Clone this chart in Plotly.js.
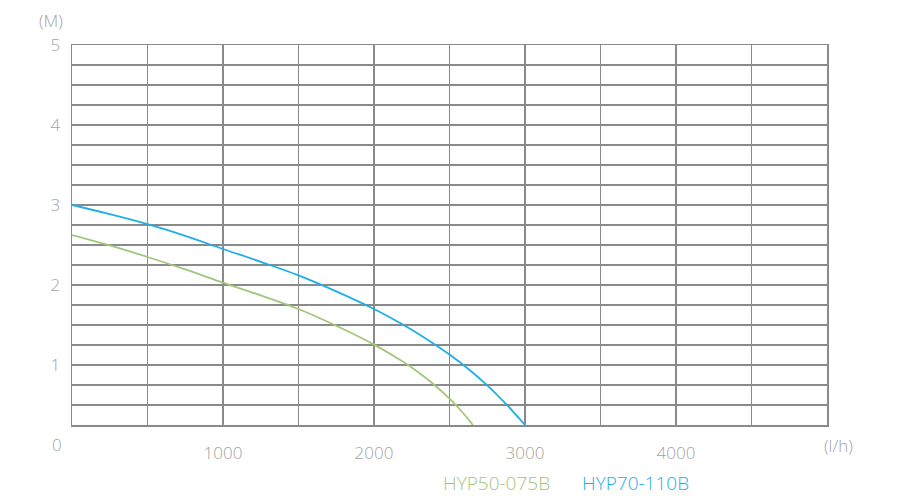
<!DOCTYPE html>
<html>
<head>
<meta charset="utf-8">
<script src="https://cdn.plot.ly/plotly-3.0.1.min.js"></script>
<style>html,body{margin:0;padding:0;background:#fff;}#chart{width:900px;height:500px;}</style>
</head>
<body>
<div id="chart"></div>
<script>
// Flow (l/h) and head (M)
var flowA = [0, 250, 500, 750, 1000, 1250, 1500, 1750, 2000, 2125, 2250, 2375, 2500, 2590, 2655];
var headA = [2.625, 2.495, 2.35, 2.195, 2.03, 1.87, 1.70, 1.49, 1.255, 1.12, 0.97, 0.79, 0.58, 0.40, 0.25];
var flowB = [0, 250, 500, 750, 1000, 1250, 1500, 1750, 2000, 2125, 2250, 2375, 2500, 2625, 2750, 2875, 3000];
var headB = [3.0, 2.885, 2.76, 2.615, 2.45, 2.29, 2.12, 1.92, 1.70, 1.575, 1.44, 1.29, 1.13, 0.95, 0.745, 0.51, 0.25];
var nameA = "HYP50-075B";
var nameB = "HYP70-110B";
var xTicks = [1000, 2000, 3000, 4000];
var yTicks = [1, 2, 3, 4, 5];

var green = "#a3c77a", blue = "#1eaee8", grid = "#8a8a8a", txt = "#a3a3a3";
var fnt = {family: "Open Sans, Liberation Sans, sans-serif", size: 17, color: txt, weight: 300};

var data = [
  {x: flowA, y: headA, mode: "lines", name: nameA, line: {color: green, width: 1.8, shape: "spline", smoothing: 1}},
  {x: flowB, y: headB, mode: "lines", name: nameB, line: {color: blue, width: 1.8, shape: "spline", smoothing: 1}}
];

var layout = {
  width: 900, height: 500,
  margin: {l: 72, r: 73, t: 45, b: 75},
  paper_bgcolor: "#fff", plot_bgcolor: "#fff",
  showlegend: false,
  font: fnt,
  xaxis: {
    range: [0, 5000], tickvals: xTicks, ticktext: xTicks.map(String),
    showgrid: true, gridcolor: grid, gridwidth: 1.3,
    minor: {dtick: 500, tick0: 0, showgrid: true, gridcolor: grid, gridwidth: 1.3},
    showline: true, linecolor: grid, linewidth: 1.5, mirror: true,
    zeroline: false, ticks: "", ticklabelstandoff: 12, tickfont: fnt
  },
  yaxis: {
    range: [0.25, 5], tickvals: yTicks, ticktext: yTicks.map(String),
    showgrid: true, gridcolor: grid, gridwidth: 1.3,
    minor: {dtick: 0.25, tick0: 0, showgrid: true, gridcolor: grid, gridwidth: 1.3},
    showline: true, linecolor: grid, linewidth: 1.5, mirror: true,
    zeroline: false, ticks: "", ticklabelstandoff: 7, tickfont: fnt
  },
  annotations: [
    {text: "0", xref: "paper", yref: "paper", x: 0, y: 0, xshift: -15, yshift: -19, showarrow: false, font: fnt, xanchor: "center", yanchor: "middle"},
    {text: "(M)", xref: "paper", yref: "paper", x: 0, y: 1, xshift: -21, yshift: 25, showarrow: false, font: fnt, xanchor: "center", yanchor: "middle"},
    {text: "(l/h)", xref: "paper", yref: "paper", x: 1, y: 0, xshift: 11, yshift: -20, showarrow: false, font: fnt, xanchor: "center", yanchor: "middle"},
    {text: nameA, xref: "paper", yref: "paper", x: 0.562, y: 0, yshift: -58, showarrow: false, font: {family: fnt.family, size: 19, color: green, weight: 300}, xanchor: "center", yanchor: "middle"},
    {text: nameB, xref: "paper", yref: "paper", x: 0.7464, y: 0, yshift: -58, showarrow: false, font: {family: fnt.family, size: 19, color: blue, weight: 300}, xanchor: "center", yanchor: "middle"}
  ]
};

Plotly.newPlot("chart", data, layout, {displayModeBar: false, staticPlot: true});
</script>
</body>
</html>
